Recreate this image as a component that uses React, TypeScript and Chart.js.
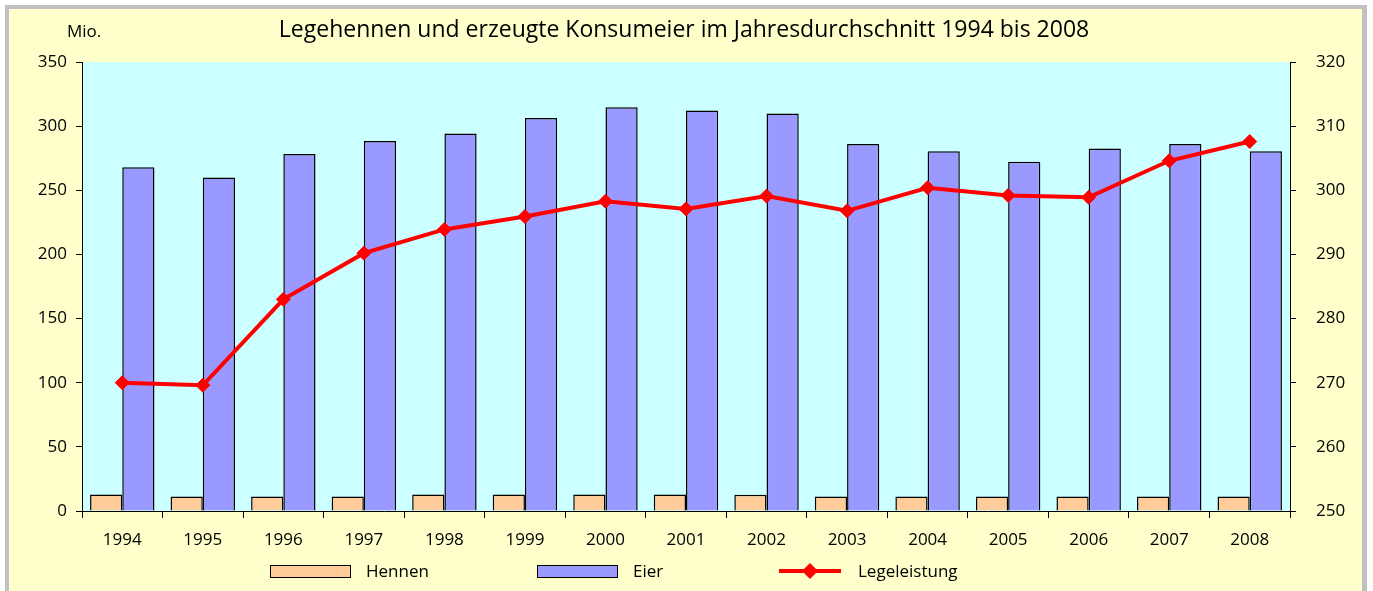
import React, { useEffect, useRef } from 'react';
import { Chart, registerables } from 'chart.js';

Chart.register(...registerables);

// ---- data ----
const years = ['1994', '1995', '1996', '1997', '1998', '1999', '2000', '2001', '2002', '2003', '2004', '2005', '2006', '2007', '2008'];
const hennen = [12.9, 11.4, 11.4, 11.4, 12.9, 12.9, 12.9, 12.9, 12.7, 11.4, 11.4, 11.4, 11.4, 11.4, 11.4];
const eier = [268.0, 259.9, 278.3, 288.5, 294.2, 306.4, 314.7, 312.1, 309.8, 286.1, 280.4, 272.3, 282.5, 286.1, 280.4];
const legeleistung = [270.0, 269.6, 283.0, 290.2, 293.9, 295.9, 298.3, 297.1, 299.1, 296.8, 300.4, 299.2, 298.9, 304.6, 307.6];
const seriesNames = ['Hennen', 'Eier', 'Legeleistung'];
const leftAxis = { min: 0, max: 350, step: 50 };
const rightAxis = { min: 250, max: 320, step: 10 };
const titleText = 'Legehennen und erzeugte Konsumeier im Jahresdurchschnitt 1994 bis 2008';
const unitText = 'Mio.';

const FONT = '"Open Sans", "Noto Sans", sans-serif';
const W = 1373;
const H = 591;

const framePlugin = {
  id: 'framePlugin',
  beforeDraw(chart: any) {
    const { ctx, chartArea } = chart;
    ctx.save();
    ctx.fillStyle = '#FFFFFF';
    ctx.fillRect(0, 0, W, H);
    ctx.fillStyle = '#C0C0C0';
    ctx.fillRect(5, 5, 1362, 700);
    ctx.fillStyle = '#FFFFCC';
    ctx.fillRect(9, 9, 1353, 700);
    ctx.fillStyle = '#CCFFFF';
    ctx.fillRect(chartArea.left, chartArea.top, chartArea.right - chartArea.left, chartArea.bottom - chartArea.top);
    ctx.restore();
  },
  afterDraw(chart: any) {
    const { ctx } = chart;
    ctx.save();
    // title
    ctx.fillStyle = '#000';
    ctx.textBaseline = 'middle';
    ctx.textAlign = 'center';
    ctx.font = `23px ${FONT}`;
    ctx.fillText(titleText, 684, 30);
    // unit
    ctx.textAlign = 'left';
    ctx.font = `17px ${FONT}`;
    ctx.fillText(unitText, 67, 32);
    // legend
    const legendX = [270, 537, 779];
    const ly = 571;
    chart.data.datasets.forEach((ds: any, i: number) => {
      const x = legendX[i];
      let textX;
      if (ds.type === 'line') {
        ctx.strokeStyle = ds.borderColor;
        ctx.lineWidth = 4;
        ctx.beginPath();
        ctx.moveTo(x, ly);
        ctx.lineTo(x + 62, ly);
        ctx.stroke();
        ctx.fillStyle = ds.pointBackgroundColor;
        ctx.beginPath();
        const cx = x + 31;
        const r = 8;
        ctx.moveTo(cx, ly - r);
        ctx.lineTo(cx + r, ly);
        ctx.lineTo(cx, ly + r);
        ctx.lineTo(cx - r, ly);
        ctx.closePath();
        ctx.fill();
        textX = x + 62 + 17;
      } else {
        ctx.fillStyle = ds.backgroundColor;
        ctx.fillRect(x, ly - 6, 80, 12);
        ctx.strokeStyle = '#000';
        ctx.lineWidth = 1;
        ctx.strokeRect(x + 0.5, ly - 5.5, 80, 12);
        textX = x + 80 + 16;
      }
      ctx.fillStyle = '#000';
      ctx.font = `17px ${FONT}`;
      ctx.textAlign = 'left';
      ctx.textBaseline = 'middle';
      ctx.fillText(ds.label, textX, ly + 1);
    });
    ctx.restore();
  },
};

export default function App() {
  const canvasRef = useRef<HTMLCanvasElement | null>(null);

  useEffect(() => {
    document.body.style.margin = '0';
    const canvas = canvasRef.current;
    if (!canvas) return;
    const tickFont = { family: FONT, size: 17 };
    const chart = new Chart(canvas, {
      type: 'bar',
      data: {
        labels: years,
        datasets: [
          {
            type: 'bar',
            label: seriesNames[0],
            data: hennen,
            backgroundColor: '#FFCC99',
            borderColor: '#000000',
            borderWidth: 1.5,
            yAxisID: 'y',
            order: 2,
            categoryPercentage: 0.8,
            barPercentage: 1.0,
          },
          {
            type: 'bar',
            label: seriesNames[1],
            data: eier,
            backgroundColor: '#9999FF',
            borderColor: '#000000',
            borderWidth: 1.5,
            yAxisID: 'y',
            order: 2,
            categoryPercentage: 0.8,
            barPercentage: 1.0,
          },
          {
            type: 'line',
            label: seriesNames[2],
            data: legeleistung,
            borderColor: '#FF0000',
            backgroundColor: '#FF0000',
            pointBackgroundColor: '#FF0000',
            pointBorderColor: '#FF0000',
            borderWidth: 4,
            pointStyle: 'rectRot',
            pointRadius: 7,
            pointBorderWidth: 1,
            tension: 0,
            yAxisID: 'y1',
            order: 0,
          } as any,
        ],
      },
      options: {
        responsive: false,
        animation: false,
        devicePixelRatio: 1,
        layout: { padding: { top: 62, left: 0, right: 0, bottom: 0 } },
        plugins: {
          legend: { display: false },
          title: { display: false },
          tooltip: { enabled: false },
        },
        scales: {
          x: {
            grid: { offset: true, drawOnChartArea: false, drawTicks: true, tickLength: 7, color: '#000' },
            border: { display: true, color: '#000', width: 1 },
            ticks: { font: tickFont, color: '#000', padding: 12, maxRotation: 0 },
            afterFit: (scale: any) => { scale.height = 80; },
          },
          y: {
            position: 'left',
            min: leftAxis.min,
            max: leftAxis.max,
            ticks: { stepSize: leftAxis.step, font: tickFont, color: '#000', padding: 9 },
            grid: { drawOnChartArea: false, drawTicks: true, tickLength: 6, color: '#000' },
            border: { display: true, color: '#000', width: 1 },
            afterFit: (scale: any) => { scale.width = 82; },
          },
          y1: {
            position: 'right',
            min: rightAxis.min,
            max: rightAxis.max,
            ticks: { stepSize: rightAxis.step, font: tickFont, color: '#000', padding: 20 },
            grid: { drawOnChartArea: false, drawTicks: true, tickLength: 6, color: '#000' },
            border: { display: true, color: '#000', width: 1 },
            afterFit: (scale: any) => { scale.width = W - 1290; },
          },
        },
      } as any,
      plugins: [framePlugin],
    });
    return () => chart.destroy();
  }, []);

  return (
    <div style={{ width: W, height: H }}>
      <canvas ref={canvasRef} width={W} height={H} style={{ display: 'block', width: W, height: H }} />
    </div>
  );
}
